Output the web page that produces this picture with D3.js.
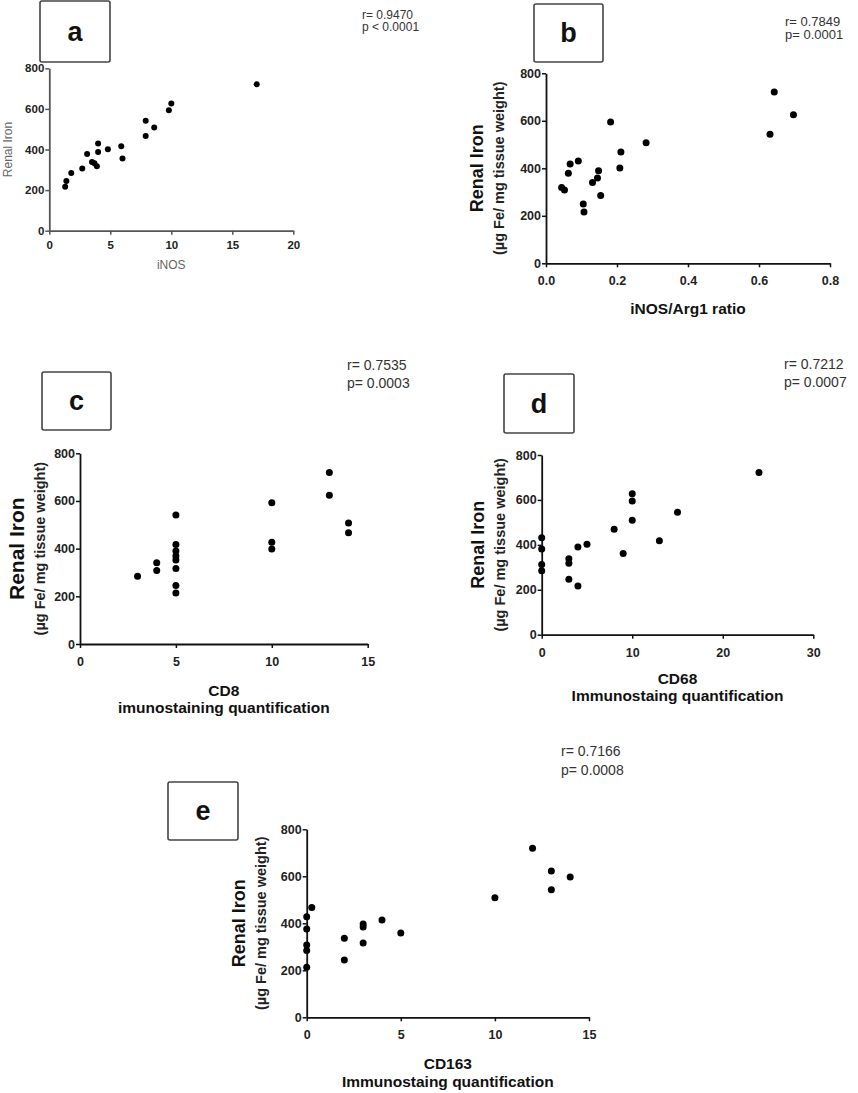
<!DOCTYPE html>
<html>
<head>
<meta charset="utf-8">
<script src="https://cdn.jsdelivr.net/npm/d3@7"></script>
<style>
  body { margin: 0; background: #fff; }
  svg { display: block; font-family: "Liberation Sans", Arial, sans-serif; }
</style>
</head>
<body>
<svg id="fig" width="858" height="1093"></svg>
<script>
// data: [x, renal iron]
var yTicks = [0, 200, 400, 600, 800];

var aX = [1.3, 1.4, 1.8, 2.7, 3.1, 3.5, 3.7, 3.9, 4.0, 4.0, 4.8, 5.9, 6.0, 7.9, 7.9, 8.6, 9.8, 10.0, 17.0];
var aY = [217, 245, 284, 307, 378, 338, 332, 317, 429, 388, 401, 416, 356, 466, 542, 508, 593, 626, 721];
var aTicks = [0, 5, 10, 15, 20];

var bX = [0.044, 0.052, 0.063, 0.068, 0.091, 0.105, 0.107, 0.131, 0.145, 0.148, 0.154, 0.182, 0.211, 0.208, 0.282, 0.631, 0.643, 0.697];
var bY = [319, 309, 379, 418, 431, 250, 216, 340, 359, 390, 286, 595, 469, 401, 508, 543, 721, 626];
var bTicks = [0.0, 0.2, 0.4, 0.6, 0.8];

var cX = [3, 4, 4, 5, 5, 5, 5, 5, 5, 5, 5, 10, 10, 10, 13, 13, 14, 14];
var cY = [284, 341, 308, 541, 417, 390, 369, 352, 317, 245, 214, 593, 427, 399, 719, 624, 508, 467];
var cTicks = [0, 5, 10, 15];

var dX = [0, 0, 0, 0, 3, 3, 3, 4, 4, 5, 8, 9, 10, 10, 10, 13, 15, 24];
var dY = [432, 381, 313, 285, 338, 318, 247, 390, 217, 403, 470, 361, 628, 595, 510, 418, 545, 722];
var dTicks = [0, 10, 20, 30];

var eX = [0, 0.27, 0, 0, 0, 0, 2, 2, 3, 3, 3, 4, 5, 10, 12, 13, 13, 14];
var eY = [428, 467, 376, 308, 284, 213, 336, 244, 397, 384, 316, 414, 359, 509, 719, 623, 543, 597];
var eTicks = [0, 5, 10, 15];

var svg = d3.select('#fig');

function panel(p) {
    var x = d3.scaleLinear().domain([p.ticks[0], p.ticks[p.ticks.length - 1]]).range([p.x0, p.x1]),
        y = d3.scaleLinear().domain([0, 800]).range([p.yb, p.yt]),
        ink = p.light ? '#555' : '#111',
        g = svg.append('g').attr('class', 'panel');

    // letter box
    g.append('rect')
        .attr('x', p.box[0]).attr('y', p.box[1])
        .attr('width', p.box[2]).attr('height', p.box[3])
        .attr('rx', 2)
        .attr('fill', '#fff').attr('stroke', '#444').attr('stroke-width', 1.6);
    g.append('text')
        .attr('x', p.box[0] + p.box[2] / 2).attr('y', p.box[1] + p.box[3] / 2)
        .attr('dy', '0.35em').attr('text-anchor', 'middle')
        .attr('font-size', 27).attr('font-weight', 'bold').attr('fill', '#111')
        .text(p.letter);

    // stats
    g.append('text').attr('x', p.stat[0]).attr('y', p.stat[1])
        .attr('font-size', p.statSize).attr('fill', '#333').text(p.r);
    g.append('text').attr('x', p.stat[0]).attr('y', p.stat[1] + p.statGap)
        .attr('font-size', p.statSize).attr('fill', '#333').text(p.p);

    var xAxis = g.append('g')
        .attr('transform', 'translate(0,' + p.yb + ')')
        .call(d3.axisBottom(x).tickValues(p.ticks).tickSize(4).tickSizeOuter(0)
            .tickFormat(p.fmt || d3.format('d')));
    var yAxis = g.append('g')
        .attr('transform', 'translate(' + p.x0 + ',0)')
        .call(d3.axisLeft(y).tickValues(yTicks).tickSize(4).tickSizeOuter(0));

    [xAxis, yAxis].forEach(function(ax) {
        ax.select('.domain').attr('stroke', ink).attr('stroke-width', 1.8);
        ax.selectAll('.tick line').attr('stroke', ink).attr('stroke-width', 1.5);
        ax.selectAll('.tick text')
            .attr('fill', '#222').attr('font-size', p.light ? 11.5 : 12.5).attr('font-weight', 'bold')
            .attr('font-family', '"Liberation Sans", Arial, sans-serif');
    });
    xAxis.selectAll('.tick text').attr('y', p.light ? 10 : 13);
    yAxis.selectAll('.tick text').attr('x', -5);

    // points
    g.selectAll('circle.pt')
        .data(p.xs.map(function(v, i) { return [v, p.ys[i]]; }))
        .enter().append('circle')
        .attr('class', 'pt')
        .attr('cx', function(d) { return x(d[0]); })
        .attr('cy', function(d) { return y(d[1]); })
        .attr('r', p.light ? 3 : 3.5)
        .attr('fill', '#000');

    // axis titles
    var yc = (p.yt + p.yb) / 2;
    if (p.light) {
        g.append('text')
            .attr('transform', 'translate(' + p.yLab + ',' + yc + ') rotate(-90)')
            .attr('text-anchor', 'middle').attr('font-size', 12).attr('fill', '#666')
            .text('Renal Iron');
    } else {
        g.append('text')
            .attr('transform', 'translate(' + p.yLab + ',' + yc + ') rotate(-90)')
            .attr('text-anchor', 'middle').attr('font-size', p.yFont).attr('font-weight', 'bold').attr('fill', '#111')
            .text('Renal Iron');
        g.append('text')
            .attr('transform', 'translate(' + (p.yLab + 21) + ',' + yc + ') rotate(-90)')
            .attr('text-anchor', 'middle').attr('font-size', 14.5).attr('font-weight', 'bold').attr('fill', '#222')
            .text('(\u00b5g Fe/ mg tissue weight)');
    }
    var xc = (p.x0 + p.x1) / 2;
    p.xLab.forEach(function(t, i) {
        g.append('text')
            .attr('x', xc).attr('y', p.xLabY + i * p.xGap)
            .attr('text-anchor', 'middle')
            .attr('font-size', p.light ? 12 : 15.5)
            .attr('font-weight', p.light ? 'normal' : 'bold')
            .attr('fill', p.light ? '#666' : '#111')
            .text(t);
    });
}

panel({letter: 'a', xs: aX, ys: aY, ticks: aTicks, light: true,
    x0: 49.3, x1: 293.3, yt: 68.3, yb: 230.7,
    box: [40, 1, 70, 61], stat: [362, 19], statSize: 12, statGap: 12,
    r: 'r= 0.9470', p: 'p < 0.0001',
    yLab: 12, xLab: ['iNOS'], xLabY: 269, xGap: 0});

panel({letter: 'b', xs: bX, ys: bY, ticks: bTicks, fmt: d3.format('.1f'),
    x0: 546, x1: 830, yt: 73.3, yb: 263.3,
    box: [534, 4, 69, 58], stat: [785, 26], statSize: 13, statGap: 13,
    r: 'r= 0.7849', p: 'p= 0.0001',
    yLab: 483, yFont: 18, xLab: ['iNOS/Arg1 ratio'], xLabY: 314, xGap: 0});

panel({letter: 'c', xs: cX, ys: cY, ticks: cTicks,
    x0: 80, x1: 367.7, yt: 453.3, yb: 644,
    box: [42, 372, 69, 58], stat: [347, 370], statSize: 14, statGap: 18,
    r: 'r= 0.7535', p: 'p= 0.0003',
    yLab: 24, yFont: 21, xLab: ['CD8', 'imunostaining quantification'], xLabY: 696, xGap: 17});

panel({letter: 'd', xs: dX, ys: dY, ticks: dTicks,
    x0: 541.7, x1: 813.3, yt: 455, yb: 634.7,
    box: [504, 374, 70, 59], stat: [784, 369], statSize: 14, statGap: 18,
    r: 'r= 0.7212', p: 'p= 0.0007',
    yLab: 484, yFont: 18, xLab: ['CD68', 'Immunostaing quantification'], xLabY: 684, xGap: 17});

panel({letter: 'e', xs: eX, ys: eY, ticks: eTicks,
    x0: 306.7, x1: 589, yt: 829.3, yb: 1017.3,
    box: [168, 782, 70, 58], stat: [561, 756], statSize: 14, statGap: 19,
    r: 'r= 0.7166', p: 'p= 0.0008',
    yLab: 245, yFont: 18, xLab: ['CD163', 'Immunostaing quantification'], xLabY: 1069, xGap: 18});
</script>
</body>
</html>
